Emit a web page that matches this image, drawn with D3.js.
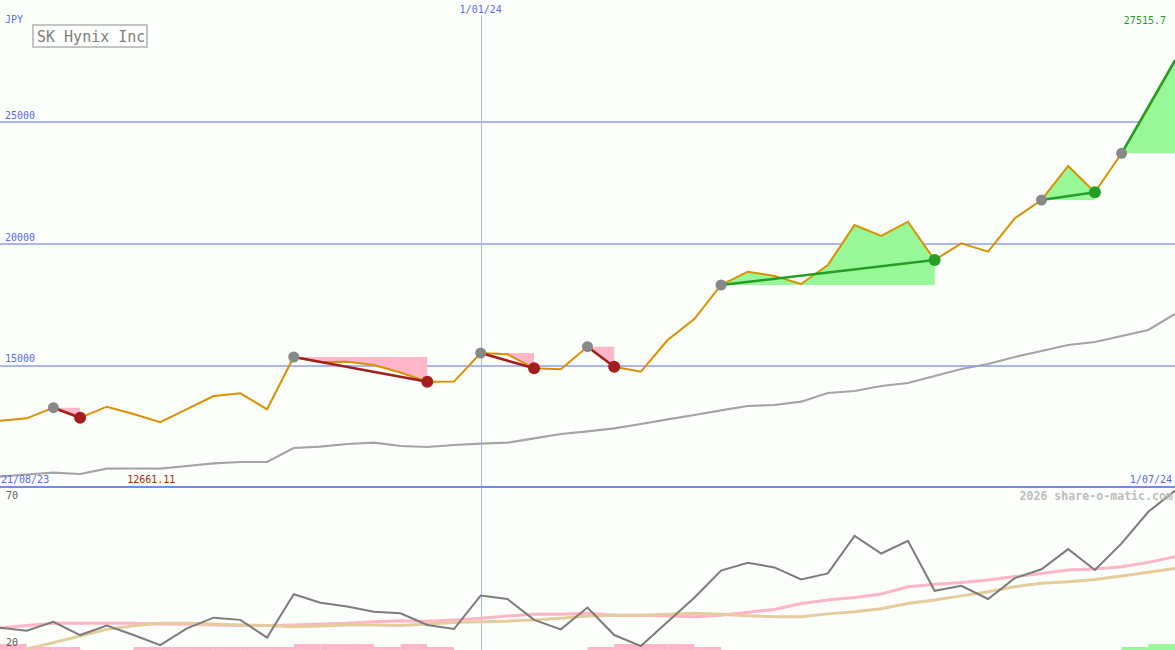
<!DOCTYPE html>
<html><head><meta charset="utf-8">
<script src="https://cdn.jsdelivr.net/npm/d3@7"></script>
<style>
body{margin:0;background:#fbfefb;overflow:hidden}
svg{display:block}
text{font-family:"DejaVu Sans Mono","Liberation Mono",monospace}
</style>
</head><body>
<svg id="chart" width="1175" height="650"></svg>
<script>
// ---------- data ----------
const dates = ["2023-08-28","2023-09-04","2023-09-11","2023-09-18","2023-09-25","2023-10-02","2023-10-09","2023-10-16","2023-10-23","2023-10-30",
"2023-11-06","2023-11-13","2023-11-20","2023-11-27","2023-12-04","2023-12-11","2023-12-18","2023-12-25","2024-01-01","2024-01-08",
"2024-01-15","2024-01-22","2024-01-29","2024-02-05","2024-02-12","2024-02-19","2024-02-26","2024-03-04","2024-03-11","2024-03-18",
"2024-03-25","2024-04-01","2024-04-08","2024-04-15","2024-04-22","2024-04-29","2024-05-06","2024-05-13","2024-05-20","2024-05-27",
"2024-06-03","2024-06-10","2024-06-17","2024-06-24","2024-07-01"];
const price = [12723,12821,13257,12846,13298,13000,12661.11,13200,13737,13848,
13191,15339,15134,15146,15010,14702,14324,14330,15503,15450,
14875,14834,15762,14940,14735,16037,16899,18296,18842,18665,
18337,19117,20760,20308,20895,19322,20008,19663,21035,21787,
23183,22103,23704,25565,27515.7];
const priceMA = [10423,10513,10587,10534,10752,10760,10752,10862,10973,11027,
11027,11602,11655,11766,11819,11684,11643,11725,11778,11819,
12000,12177,12287,12411,12587,12780,12957,13150,13327,13368,
13503,13860,13943,14148,14271,14559,14846,15051,15339,15585,
15832,15955,16201,16448,17105];
const osc = [26.4,25.5,28.3,24.1,27.1,24.1,20.9,26.2,29.6,28.9,
23.3,37.0,34.3,33.1,31.5,31.0,27.3,26.0,36.6,35.5,
28.9,25.9,32.8,24.1,20.6,28.3,35.9,44.5,47.0,45.5,
41.7,43.6,55.5,49.9,53.9,38.1,39.7,35.5,42.1,44.9,
51.3,44.7,53.1,63.1,69.8];
const oscAvgPink = [26.3,27.1,27.8,27.8,27.8,27.8,27.6,27.5,27.3,27.1,
27.1,27.3,27.6,27.8,28.3,28.6,28.5,28.9,29.4,30.1,
30.7,30.7,31.0,30.4,30.4,30.1,29.9,30.4,31.3,32.2,
34.1,35.2,36.0,37.1,39.4,40.2,40.7,41.5,42.6,43.6,
44.7,45.0,45.7,47.1,48.9];
const oscAvgTan = [null,19.7,21.7,23.8,25.9,27.0,27.8,27.8,27.6,27.3,
27.1,26.7,27.0,27.3,27.3,27.1,27.6,28.1,28.3,28.5,
28.9,29.4,30.1,30.4,30.4,30.7,31.0,30.7,30.2,29.9,
29.9,30.8,31.5,32.4,34.1,35.2,36.5,37.8,39.4,40.5,
41.0,41.7,42.8,44.0,45.2];
// per-interval state bars (negative = pink, positive = green)
const stateBars = [-2,-1,-1,0,0,-1,-1,-1,-1,-1,
-1,-2,-2,-2,-1,-2,-1,0,0,0,
0,0,-1,-2,-2,-2,-1,0,0,0,
0,0,0,0,0,0,0,0,0,0,
0,0,1,2];
const sigStart = [2,11,18,22,27,39,42];
const sigEnd   = [3,16,20,23,35,41,44];
const sigType  = ["sell","sell","sell","sell","buy","buy","buy"];
const sigOpen  = [false,false,false,false,false,false,true];
const priceTicks = [15000,20000,25000];
const oscTicks = [70,20];
const titleText = "SK Hynix Inc";
const currency = "JPY";
const startLabel = "21/08/23", midLabel = "1/01/24", midDate = "2024-01-01", endLabel = "1/07/24";
const watermark = "2026 share-o-matic.com";

// ---------- setup ----------
const W = 1175, H = 650, mainBottom = 487;
const parse = d3.timeParse("%Y-%m-%d");
const D = dates.map(parse);
const svg = d3.select("#chart");
svg.append("rect").attr("width",W).attr("height",H).attr("fill","#fbfefb");

const x = d3.scaleTime().domain([D[0], D[D.length-1]]).range([0, W]);
const y = d3.scaleLinear().domain([10000, 30000]).range([mainBottom, 0]);
const yo = d3.scaleLinear().domain([20, 70]).range([648, 490]);
const yb = d3.scaleLinear().domain([0, 2]).range([650, 644]);

const defs = svg.append("defs");
defs.append("clipPath").attr("id","cm").append("rect").attr("x",0).attr("y",0).attr("width",W).attr("height",mainBottom);
defs.append("clipPath").attr("id","co").append("rect").attr("x",0).attr("y",mainBottom+1).attr("width",W).attr("height",H-mainBottom-1);

const blue = "#5a6af0";

// gridlines
const yAxis = d3.axisLeft(y).tickValues(priceTicks).tickSize(-W).tickFormat("");
const ga = svg.append("g").call(yAxis);
ga.select(".domain").remove();
ga.selectAll(".tick line").attr("stroke","#a8b6f2").attr("stroke-width",2).attr("shape-rendering","crispEdges");
svg.selectAll(".ptick").data(priceTicks).join("text").attr("class","ptick")
  .attr("x",5).attr("y",d=>y(d)-3).attr("font-size",10).attr("fill",blue).text(d=>d);

// vertical date line
svg.append("line").attr("x1",Math.round(x(parse(midDate)))+0.5).attr("x2",Math.round(x(parse(midDate)))+0.5)
  .attr("y1",16).attr("y2",H).attr("stroke","#aab4e2").attr("stroke-width",1);
svg.append("text").attr("x",x(parse(midDate))).attr("y",13).attr("text-anchor","middle")
  .attr("font-size",10).attr("fill",blue).text(midLabel);

// separator
svg.append("line").attr("x1",0).attr("x2",W).attr("y1",mainBottom).attr("y2",mainBottom)
  .attr("stroke","#7888ee").attr("stroke-width",2).attr("shape-rendering","crispEdges");

const gm = svg.append("g").attr("clip-path","url(#cm)");
const idx = d3.range(D.length);

// price moving average
gm.append("path").datum(idx).attr("fill","none").attr("stroke","#a4a4a4").attr("stroke-width",2.2)
  .attr("d", d3.line().x(i=>x(D[i])).y(i=>y(priceMA[i])));

// signal fills
sigStart.forEach((s,k)=>{
  const e = sigEnd[k];
  const base = price[s];
  gm.append("path").datum(d3.range(s,e+1))
    .attr("fill", sigType[k]==="buy" ? "#98f898" : "#ffb6ca")
    .attr("d", d3.area().x(i=>x(D[i])).y0(y(base)).y1(i=>y(price[i])));
});

// price line
gm.append("path").datum(idx).attr("fill","none").attr("stroke","#dc9000").attr("stroke-width",2)
  .attr("d", d3.line().x(i=>x(D[i])).y(i=>y(price[i])));

// signal lines + markers
sigStart.forEach((s,k)=>{
  const e = sigEnd[k];
  const col = sigType[k]==="buy" ? "#259e25" : "#a41e1e";
  gm.append("line").attr("x1",x(D[s])).attr("y1",y(price[s])).attr("x2",x(D[e])).attr("y2",y(price[e]))
    .attr("stroke",col).attr("stroke-width",2.6);
});
sigStart.forEach((s,k)=>{
  const e = sigEnd[k];
  const col = sigType[k]==="buy" ? "#259e25" : "#a41e1e";
  gm.append("circle").attr("cx",x(D[s])).attr("cy",y(price[s])).attr("r",5.5).attr("fill","#888888");
  if(!sigOpen[k]) gm.append("circle").attr("cx",x(D[e])).attr("cy",y(price[e])).attr("r",6).attr("fill",col);
});

// labels main
svg.append("text").attr("x",5).attr("y",23).attr("font-size",10).attr("fill",blue).text(currency);
svg.append("rect").attr("x",33).attr("y",25).attr("width",114).attr("height",22)
  .attr("fill","#fbfefb").attr("stroke","#c4c4c4").attr("stroke-width",2);
svg.append("text").attr("x",37).attr("y",42).attr("font-size",15).attr("fill","#808080").text(titleText);
const maxI = d3.maxIndex(price), minI = d3.minIndex(price);
svg.append("text").attr("x",W-9).attr("y",24).attr("text-anchor","end").attr("font-size",10)
  .attr("fill","#259e25").text(price[maxI]);
svg.append("text").attr("x",x(D[minI])-33).attr("y",483).attr("font-size",10)
  .attr("fill","#a41e1e").text(d3.format(".2f")(price[minI]));
svg.append("text").attr("x",1).attr("y",483).attr("font-size",10).attr("fill",blue).text(startLabel);
svg.append("text").attr("x",W-3).attr("y",483).attr("text-anchor","end").attr("font-size",10).attr("fill",blue).text(endLabel);

// ---------- oscillator panel ----------
const go = svg.append("g").attr("clip-path","url(#co)");
go.selectAll(".bar").data(stateBars.map((v,i)=>({v,i})).filter(d=>d.v!==0)).join("rect")
  .attr("x",d=>x(D[d.i])).attr("width",d=>x(D[d.i+1])-x(D[d.i]))
  .attr("y",d=>yb(Math.abs(d.v))).attr("height",d=>yb(0)-yb(Math.abs(d.v)))
  .attr("fill",d=>d.v>0 ? "#98f898" : "#ffb6ca");
go.append("path").datum(idx).attr("fill","none").attr("stroke","#ffb4c8").attr("stroke-width",3)
  .attr("d", d3.line().x(i=>x(D[i])).y(i=>yo(oscAvgPink[i])));
go.append("path").datum(idx.filter(i=>oscAvgTan[i]!=null)).attr("fill","none").attr("stroke","#e4cc9c").attr("stroke-width",3)
  .attr("d", d3.line().x(i=>x(D[i])).y(i=>yo(oscAvgTan[i])));
go.append("path").datum(idx).attr("fill","none").attr("stroke","#7c7c7c").attr("stroke-width",2)
  .attr("d", d3.line().x(i=>x(D[i])).y(i=>yo(osc[i])));

svg.selectAll(".otick").data(oscTicks).join("text").attr("class","otick")
  .attr("x",6).attr("y",(d,i)=> i===0 ? 499 : 646).attr("font-size",10).attr("fill","#606060").text(d=>d);
svg.append("text").attr("x",W-2).attr("y",500).attr("text-anchor","end").attr("font-size",11.6)
  .attr("fill","#bdbdbd").attr("font-weight","bold").text(watermark);
</script>
</body></html>
